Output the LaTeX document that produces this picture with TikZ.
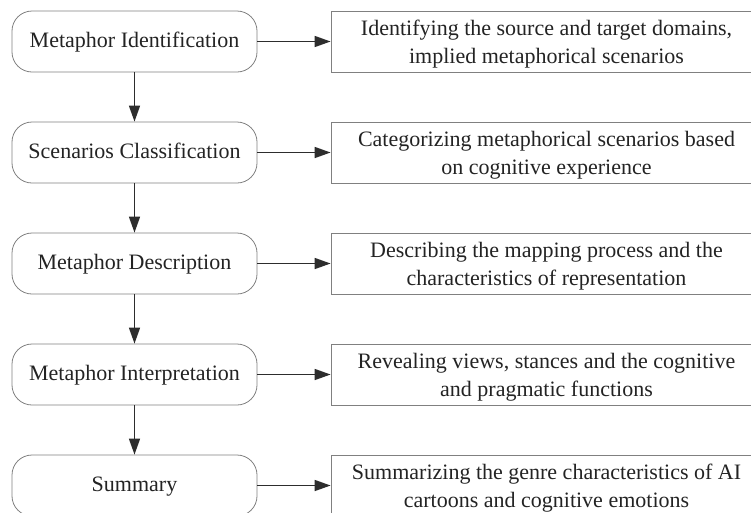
\documentclass[tikz,border=0pt]{standalone}
\usepackage{fontspec}
\setmainfont{Liberation Serif}
\usetikzlibrary{arrows.meta}
\tikzset{
  stage/.style={draw={rgb,255:red,128;green,128;blue,128},line width=0.8pt,rounded corners=20pt,
    minimum width=245pt,minimum height=61pt,inner sep=0pt,text height=15pt,text depth=3pt,
    text={rgb,255:red,35;green,35;blue,35},font=\fontsize{22}{26}\selectfont},
  note/.style={draw={rgb,255:red,128;green,128;blue,128},line width=0.8pt,
    minimum width=431pt,minimum height=61pt,inner sep=0pt,align=center,text depth=0pt,
    text={rgb,255:red,35;green,35;blue,35},font=\fontsize{22}{28}\selectfont},
  flow/.style={draw={rgb,255:red,45;green,45;blue,45},line width=1.6pt,-{Triangle[length=16pt,width=11pt]}}
}
\begin{document}
\begin{tikzpicture}[x=1pt,y=1pt,yscale=-1,xscale=1]
\useasboundingbox (0,0) rectangle (751,512);
\clip (0,0) rectangle (751,512);

% Left column
\node [stage] (ident) at (134.5,41.5) {Metaphor Identification};
\node [stage] (classif) at (134.5,152.5) {Scenarios Classification};
\node [stage] (descr) at (134.5,263.5) {Metaphor Description};
\node [stage] (interp) at (134.5,374.5) {Metaphor Interpretation};
\node [stage] (summ) at (134.5,485.5) {Summary};

% Right column
\node [note] (identtxt) at (546.5,41.5) {Identifying the source and target domains,\\implied metaphorical scenarios};
\node [note] (classiftxt) at (546.5,152.5) {Categorizing metaphorical scenarios based\\on cognitive experience};
\node [note] (descrtxt) at (546.5,263.5) {Describing the mapping process and the\\characteristics of representation};
\node [note] (interptxt) at (546.5,374.5) {Revealing views, stances and the cognitive\\and pragmatic functions};
\node [note] (summtxt) at (546.5,485.5) {Summarizing the genre characteristics of AI\\cartoons and cognitive emotions};

% Down arrows
\draw [flow] (ident) -- (classif);
\draw [flow] (classif) -- (descr);
\draw [flow] (descr) -- (interp);
\draw [flow] (interp) -- (summ);

% Side arrows
\draw [flow] (ident) -- (identtxt);
\draw [flow] (classif) -- (classiftxt);
\draw [flow] (descr) -- (descrtxt);
\draw [flow] (interp) -- (interptxt);
\draw [flow] (summ) -- (summtxt);
\end{tikzpicture}
\end{document}
